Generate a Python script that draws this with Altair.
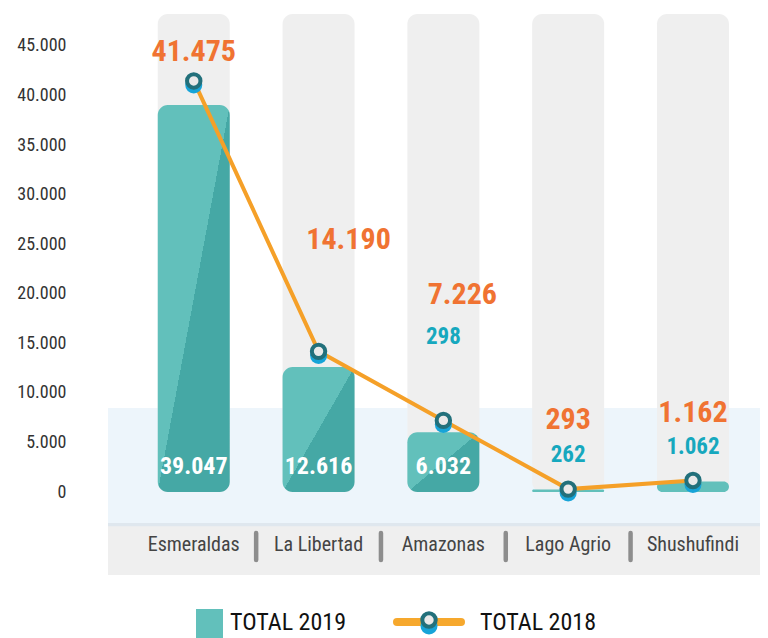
import altair as alt
import pandas as pd

# ---------------- data ----------------
categories = ["Esmeraldas", "La Libertad", "Amazonas", "Lago Agrio", "Shushufindi"]
total_2019 = [39047, 12616, 6032, 262, 1062]
total_2018 = [41475, 14190, 7226, 293, 1162]
series = ["TOTAL 2019", "TOTAL 2018"]
y_ticks = [0, 5000, 10000, 15000, 20000, 25000, 30000, 35000, 40000, 45000]
extra_label_cat = "Amazonas"
extra_label_text = "298"


def fmt(v):
    return f"{v:,}".replace(",", ".")


df = pd.DataFrame({
    "cat": categories,
    "idx": list(range(len(categories))),
    "v19": total_2019,
    "v18": total_2018,
})
df["l19"] = df["v19"].map(fmt)
df["l18"] = df["v18"].map(fmt)
df["sep"] = df["idx"] + 0.5

# ---------------- layout / style ----------------
W, H = 652, 567
Y_MIN, Y_MAX = -8374, 48834
COL_TOP = 48230
BAND_TOP, BAND_BOTTOM, LINE_BOTTOM = 8475, -3128, -3450
XLABEL_Y = -5348
SEP_TOP, SEP_BOTTOM = -4137, -6861
FONT = "Liberation Sans Narrow, Roboto Condensed, DejaVu Sans Condensed, Arial Narrow, sans-serif"

ORANGE_TXT = "#f07332"
TEAL_TXT = "#16a8be"
LINE_C = "#f5a028"
BAR_LIGHT = "#62c0bb"
BAR_DARK = "#45a8a5"
COL_GREY = "#efefef"

label_dx_18 = [0, 30, 19, 0, 0]
label_dy_18 = [-29, -111, -125, -69, -67]

xs = alt.Scale(domain=[-0.647, 4.497], nice=False, zero=False)
ys = alt.Scale(domain=[Y_MIN, Y_MAX], nice=False, zero=False)
AX = alt.Axis(values=y_ticks,
              labelExpr="replace(format(datum.value, ','), ',', '.')",
              domain=False, ticks=False, grid=False, labelPadding=42,
              labelFontSize=18, labelFont=FONT, labelColor="#333333",
              title=None)


def X(f="idx:Q"):
    return alt.X(f, scale=xs, axis=None)


def Y(f):
    return alt.Y(f, scale=ys, axis=AX)


base = alt.Chart(df)

# background bands
bands = pd.DataFrame({
    "y1": [BAND_TOP, BAND_BOTTOM, BAND_BOTTOM],
    "y2": [BAND_BOTTOM, Y_MIN, LINE_BOTTOM],
    "c": ["#edf5fb", "#efefef", "#dfe7ee"],
})
band_layer = alt.Chart(bands).mark_rect().encode(
    x=alt.value(0), x2=alt.value(W),
    y=Y("y1:Q"), y2="y2:Q",
    color=alt.Color("c:N", scale=None),
)

columns = base.transform_calculate(top=str(COL_TOP), zero="0").mark_bar(
    size=72, cornerRadius=10, color=COL_GREY
).encode(x=X(), y=Y("top:Q"), y2="zero:Q")

grad = alt.LinearGradient(
    gradient="linear",
    stops=[alt.GradientStop(color=BAR_LIGHT, offset=0),
           alt.GradientStop(color=BAR_LIGHT, offset=0.5),
           alt.GradientStop(color=BAR_DARK, offset=0.5),
           alt.GradientStop(color=BAR_DARK, offset=1)],
    x1=0, y1=0, x2=1, y2=1,
)

bars_big = base.transform_filter("datum.v19 >= 5000").transform_calculate(zero="0").mark_bar(
    size=72, cornerRadius=10, color=grad
).encode(x=X(), y=Y("v19:Q"), y2="zero:Q")

bars_small = base.transform_filter("datum.v19 < 5000").transform_calculate(zero="0").mark_bar(
    size=72, cornerRadius=6, color=BAR_LIGHT
).encode(x=X(), y=Y("v19:Q"), y2="zero:Q")

white_labels = base.transform_filter("datum.v19 >= 5000").transform_calculate(zero="0").mark_text(
    font=FONT, fontSize=24, fontWeight="bold", color="white", baseline="middle", dy=-25
).encode(x=X(), y=Y("zero:Q"), text="l19:N")

teal_labels = base.transform_filter("datum.v19 < 5000").mark_text(
    font=FONT, fontSize=23, fontWeight="bold", color=TEAL_TXT, baseline="middle", dy=-34
).encode(x=X(), y=Y("v19:Q"), text="l19:N")

extra_label = base.transform_filter(f"datum.cat == '{extra_label_cat}'").mark_text(
    font=FONT, fontSize=23, fontWeight="bold", color=TEAL_TXT, baseline="middle", dy=-95
).encode(x=X(), y=Y("v19:Q"), text=alt.value(extra_label_text))

line = base.mark_line(color=LINE_C, strokeWidth=4).encode(x=X(), y=Y("v18:Q"))
shadow = base.mark_circle(size=290, color="#17a4d8", opacity=1, yOffset=4).encode(
    x=X(), y=Y("v18:Q"))
ring = base.mark_circle(size=180, fill="#e9e9e9", fillOpacity=1, stroke="#22707b",
                        strokeWidth=4, opacity=1).encode(x=X(), y=Y("v18:Q"))

orange_layers = []
for i in range(len(categories)):
    orange_layers.append(
        base.transform_filter(f"datum.idx == {i}").mark_text(
            font=FONT, fontSize=30, fontWeight="bold", color=ORANGE_TXT,
            baseline="middle", dx=label_dx_18[i], dy=label_dy_18[i]
        ).encode(x=X(), y=Y("v18:Q"), text="l18:N")
    )

xlabels = base.transform_calculate(ly=str(XLABEL_Y)).mark_text(
    font=FONT, fontSize=20, color="#444444", baseline="middle"
).encode(x=X(), y=Y("ly:Q"), text="cat:N")

seps = base.transform_filter(f"datum.idx < {len(categories) - 1}").transform_calculate(
    s1=str(SEP_TOP), s2=str(SEP_BOTTOM)
).mark_rule(strokeWidth=4.5, strokeCap="round", color="#8d8d8d").encode(
    x=X("sep:Q"), y=Y("s1:Q"), y2="s2:Q")

# legend (drawn below the plot)
one = alt.Chart(pd.DataFrame({"k": [0]}))
leg_sq = one.mark_rect(color=BAR_LIGHT).encode(
    x=alt.value(88), x2=alt.value(115), y=alt.value(601), y2=alt.value(630))
leg_t1 = one.mark_text(font=FONT, fontSize=24, color="#111111", align="left",
                       baseline="middle").encode(
    x=alt.value(122), y=alt.value(615), text=alt.value(series[0]))
leg_line = one.mark_rule(color="#f6a82d", strokeWidth=8, strokeCap="round").encode(
    x=alt.value(289), x2=alt.value(353), y=alt.value(614))
leg_sh = one.mark_circle(size=290, color="#17a4d8", opacity=1).encode(
    x=alt.value(321), y=alt.value(618))
leg_ring = one.mark_circle(size=180, fill="#e9e9e9", fillOpacity=1, stroke="#22707b",
                           strokeWidth=4, opacity=1).encode(
    x=alt.value(321), y=alt.value(612))
leg_t2 = one.mark_text(font=FONT, fontSize=24, color="#111111", align="left",
                       baseline="middle").encode(
    x=alt.value(372), y=alt.value(615), text=alt.value(series[1]))

chart = alt.layer(
    band_layer, columns, bars_big, bars_small, white_labels, line, shadow, ring,
    *orange_layers, teal_labels, extra_label, xlabels, seps,
    leg_sq, leg_t1, leg_line, leg_sh, leg_ring, leg_t2,
).properties(
    width=W, height=H,
    autosize=alt.AutoSizeParams(type="none"),
    padding={"left": 100, "top": 0, "right": 0, "bottom": 63},
    background="white",
).configure_view(stroke=None)

chart.save("out.html", embed_options={"renderer": "svg", "actions": False})
